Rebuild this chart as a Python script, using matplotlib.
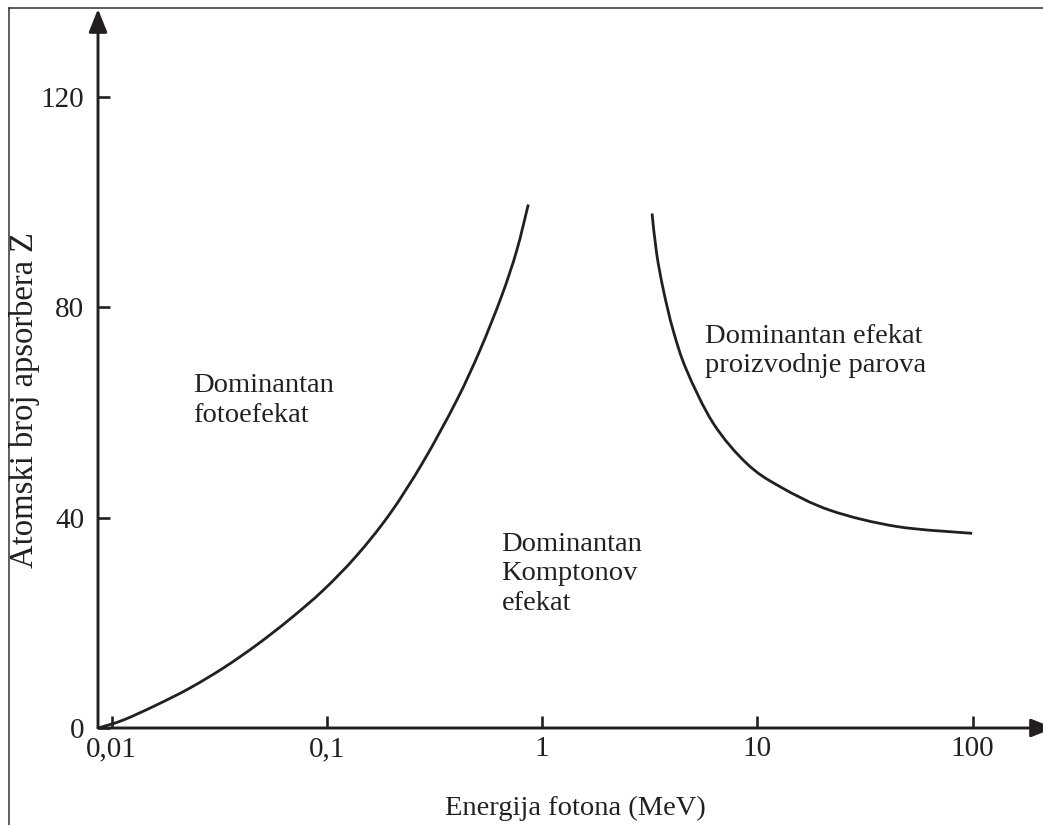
import numpy as np
import matplotlib
matplotlib.use("Agg")
import matplotlib.pyplot as plt
from matplotlib.lines import Line2D
from matplotlib.path import Path
from matplotlib.patches import PathPatch

# boundary curves (energy in MeV, atomic number Z)
photo_E = [0.00866, 0.0113, 0.0162, 0.0231, 0.0330, 0.0472, 0.0673, 0.0962,
           0.137, 0.196, 0.280, 0.401, 0.514, 0.648, 0.761, 0.862]
photo_Z = [0, 1.5, 4.4, 7.6, 11.4, 15.8, 20.7, 26.2,
           32.7, 40.7, 50.6, 62.3, 71.8, 82.1, 90.7, 99.5]

pair_E = [3.24, 3.40, 3.66, 4.06, 4.69, 6.24, 8.91, 12.7, 21.7, 44.4, 99.5]
pair_Z = [97.8, 90.3, 83.2, 75.6, 68.0, 57.9, 50.3, 45.9, 41.4, 38.3, 37.0]

x_ticks = [0.01, 0.1, 1, 10, 100]
x_tick_labels = ["0,01", "0,1", "1", "10", "100"]
y_ticks = [0, 40, 80, 120]

ink = "#231f20"
plt.rcParams["font.family"] = ["Liberation Serif", "DejaVu Serif"]


def smooth_path(E, Z):
    # Catmull-Rom through the read points, done in log-energy space
    pts = np.column_stack([np.log10(E), np.asarray(Z, float)])
    verts = [pts[0]]
    codes = [Path.MOVETO]
    n = len(pts)
    for i in range(n - 1):
        p0 = pts[max(i - 1, 0)]
        p1 = pts[i]
        p2 = pts[i + 1]
        p3 = pts[min(i + 2, n - 1)]
        verts += [p1 + (p2 - p0) / 6, p2 - (p3 - p1) / 6, p2]
        codes += [Path.CURVE4] * 3
    verts = np.array(verts)
    verts[:, 0] = 10 ** verts[:, 0]
    return Path(verts, codes)


W, H = 1043, 825
fig = plt.figure(figsize=(W / 100, H / 100), dpi=100)

# axes box in pixels: origin (98, 728), arrow tips at y=9 and x=1054
left, right, bottom, top = 98, 1054, 728, 9
ax = fig.add_axes([left / W, (H - bottom) / H, (right - left) / W, (bottom - top) / H])
ax.set_xscale("log")
ax.set_xlim(10 ** -2.0636, 10 ** 2.378)
ax.set_ylim(0, (bottom - top) / 5.261)

for E, Z in [(photo_E, photo_Z), (pair_E, pair_Z)]:
    ax.add_patch(PathPatch(smooth_path(E, Z), fill=False, edgecolor=ink, lw=2.0,
                           capstyle="butt"))

for s in ax.spines.values():
    s.set_visible(False)

arrow = dict(arrowstyle="-|>,head_length=0.7,head_width=0.28", mutation_scale=20,
             lw=2.1, color=ink, shrinkA=0, shrinkB=0)
ax.annotate("", xy=(1, 0), xytext=(0, 0), xycoords="axes fraction",
            textcoords="axes fraction", arrowprops=arrow)
ax.annotate("", xy=(0, 1), xytext=(0, 0), xycoords="axes fraction",
            textcoords="axes fraction", arrowprops=arrow)

ax.set_xticks(x_ticks)
ax.set_xticklabels(x_tick_labels)
ax.minorticks_off()
ax.set_yticks(y_ticks)
ax.tick_params(direction="in", length=8.5, width=1.9, color=ink,
               labelcolor=ink, labelsize=21)
ax.tick_params(axis="y", pad=10)
ax.tick_params(axis="x", pad=6)

# va="baseline" on multi-line text anchors the last line
ax.text(0.0239, 58.1, "Dominantan\nfotoefekat", fontsize=20.5, color=ink,
        va="baseline", linespacing=1.3)
ax.text(0.648, 22.4, "Dominantan\nKomptonov\nefekat", fontsize=20.5, color=ink,
        va="baseline", linespacing=1.25)
ax.text(5.70, 67.7, "Dominantan efekat\nproizvodnje parova", fontsize=20.5, color=ink,
        va="baseline", linespacing=1.2)

fig.text(575 / W, 1 - 815 / H, "Energija fotona (MeV)", fontsize=20.5, color=ink,
         ha="center", va="baseline")
fig.text(33 / W, 1 - 400 / H, "Atomski broj apsorbera Z", fontsize=23.5, color=ink,
         rotation=90, rotation_mode="anchor", ha="center", va="baseline")

# frame lines left over from the original page layout
fig.add_artist(Line2D([9 / W, 9 / W], [0, 1 - 8 / H], color="#333333", lw=1.1))
fig.add_artist(Line2D([9 / W, 1], [1 - 8 / H, 1 - 8 / H], color="#333333", lw=1.1))

fig.savefig("out.png", dpi=100)
